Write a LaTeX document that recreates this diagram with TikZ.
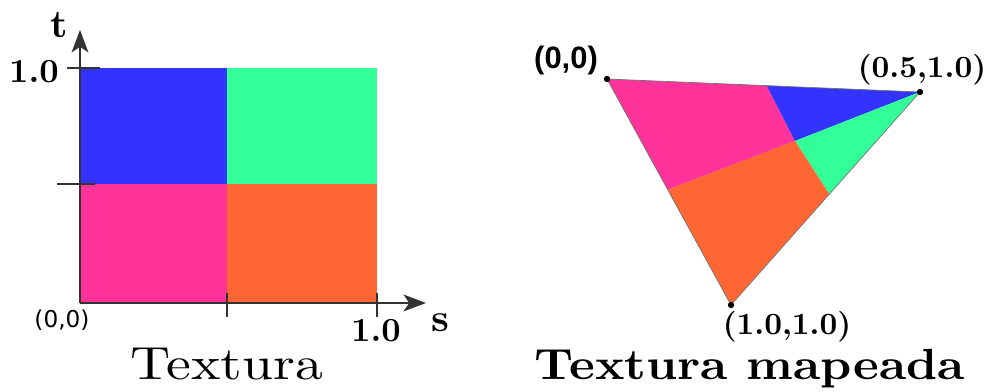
\documentclass[tikz,border=0pt]{standalone}
\usepackage{fontspec}
\setmainfont{lmroman10-regular.otf}[BoldFont=lmroman10-bold.otf]
\usepackage{graphicx}
\usepackage{tikz}
\usetikzlibrary{arrows.meta, calc}
\newfontfamily\dejavu{DejaVu Sans}
\newfontfamily\arialb{Liberation Sans}

\definecolor{texAzul}{HTML}{3333FF}
\definecolor{texVerde}{HTML}{33FF99}
\definecolor{texRosa}{HTML}{FF3399}
\definecolor{texNaranja}{HTML}{FF6633}
\tikzset{
  eje/.style={draw=black!80, line width=1pt, -{Stealth[length=16pt, width=12pt, inset=4pt]}},
  marca/.style={draw=black!80, line width=0.8pt},
  borde/.style={draw=black!55, line width=0.5pt},
  vertice/.style={circle, fill=black, inner sep=0pt, minimum size=4.5pt},
  valor/.style={font=\fontsize{24}{26}\selectfont\bfseries, inner sep=0pt},
  punto/.style={font=\fontsize{22}{24}\selectfont\bfseries, inner sep=0pt},
  origen/.style={font=\dejavu\fontsize{16.5}{18}\selectfont, inner sep=0pt},
  varEje/.style={font=\fontsize{28}{30}\selectfont\bfseries, inner sep=0pt},
  titulo/.style={font=\fontsize{33}{36}\selectfont, inner sep=0pt, anchor=base}
}

\begin{document}
\begin{tikzpicture}[x=0.025cm, y=-0.025cm]
    \useasboundingbox (0,0) rectangle (989,392);

    % 1. Textura: cuadrado de cuatro colores
    \coordinate (q00) at (80,303);
    \coordinate (qMid) at (227,184);
    \coordinate (q11) at (377,68);
    \fill[texRosa]    (q00) rectangle (qMid);
    \fill[texNaranja] (q00 -| qMid) rectangle (qMid -| q11);
    \fill[texAzul]    (qMid -| q00) rectangle (q11 -| qMid);
    \fill[texVerde]   (qMid) rectangle (q11);

    % Ejes s y t
    \coordinate (sFin) at (426,303);
    \coordinate (tFin) at (80,30);
    \draw[eje] (q00) -- (sFin);
    \draw[eje] (q00) -- (tFin);

    % Marcas de los ejes
    \draw[marca] (67,68) -- (100,68);
    \draw[marca] (57,184) -- (95,184);
    \draw[marca] (227,293) -- (227,317);
    \draw[marca] (377,293) -- (377,317);

    % Etiquetas
    \node[varEje] (tLbl) at (59,25) {t};
    \node[varEje] (sLbl) at (440,323) {s};
    \node[valor] (tUno) at (34,72) {1.0};
    \node[valor] (sUno) at (376,331) {1.0};
    \node[origen] (lblOrigen) at (62,320) {(0,0)};
    \node[titulo] (tituloTex) at (227,380) {\scalebox{1.2}[1]{Textura}};

    % 2. Textura mapeada sobre el triangulo
    \coordinate (v00) at (607,79);
    \coordinate (v05) at (920,92);
    \coordinate (v11) at (731,305);
    \coordinate (dSup) at ($(v00)!0.51!(v05)$);
    \coordinate (dIzq) at ($(v00)!0.49!(v11)$);
    \coordinate (dDer) at ($(v05)!0.48!(v11)$);
    \coordinate (dCen) at (795,141);

    \fill[texRosa]    (v00) -- (dSup) -- (dCen) -- (dIzq) -- cycle;
    \fill[texAzul]    (dSup) -- (v05) -- (dCen) -- cycle;
    \fill[texVerde]   (dCen) -- (v05) -- (dDer) -- cycle;
    \fill[texNaranja] (dIzq) -- (dCen) -- (dDer) -- (v11) -- cycle;
    \draw[borde] (v00) -- (v05) -- (v11) -- cycle;

    \foreach \v in {v00,v05,v11}
        \node[vertice] (p\v) at (\v) {};

    \node[font=\arialb\bfseries\fontsize{22}{24}\selectfont, inner sep=0pt] (lbl00) at (566,61) {(0,0)};
    \node[punto] (lbl05) at (922,70) {(0.5,1.0)};
    \node[punto] (lbl11) at (787,327) {(1.0,1.0)};
    \node[titulo, font=\fontsize{31}{34}\selectfont\bfseries] (tituloMap) at (750,380) {\scalebox{1.12}[1]{Textura mapeada}};

\end{tikzpicture}
\end{document}
